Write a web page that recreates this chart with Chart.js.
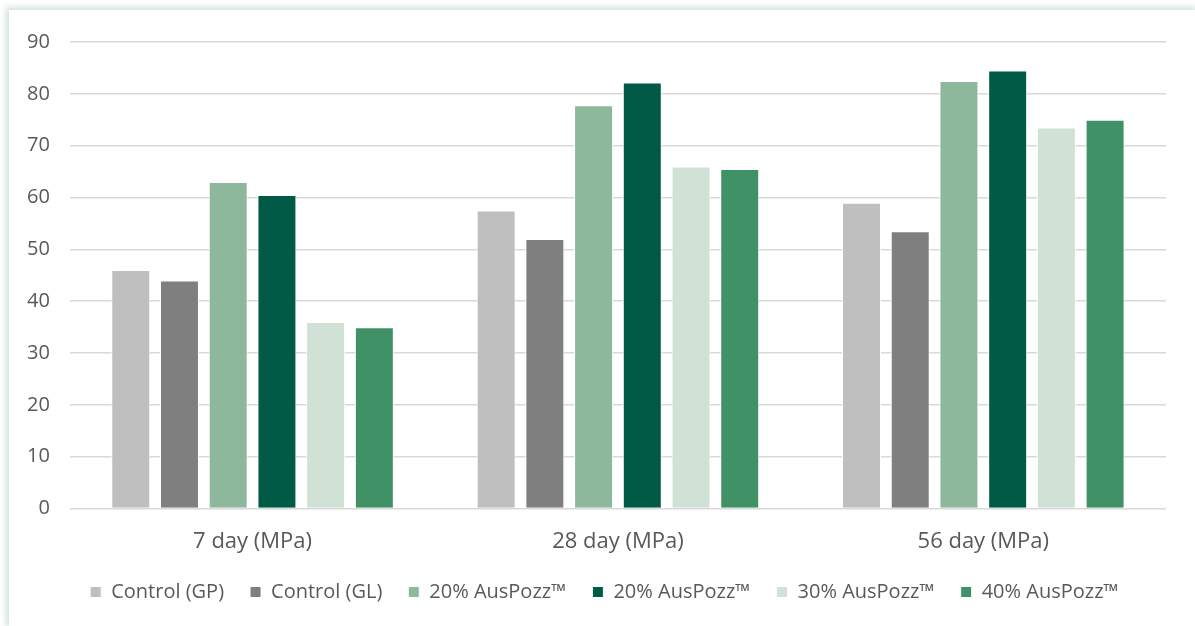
<!DOCTYPE html>
<html>
<head>
<meta charset="utf-8">
<script src="https://cdn.jsdelivr.net/npm/chart.js@4"></script>
<style>
  html, body { margin: 0; padding: 0; background: #fff; overflow: hidden; }
  #frame {
    position: absolute; left: 9px; top: 10px; width: 1190px; height: 620px;
    background: #fff;
    box-shadow: -3px -3px 6px rgba(120, 170, 150, 0.35);
  }
  #wrap { position: absolute; left: 0; top: 0; width: 1186px; height: 616px; }
</style>
</head>
<body>
<div id="frame"><div id="wrap"><canvas id="chart"></canvas></div></div>
<script>
// categories and series
const categories = ['7 day (MPa)', '28 day (MPa)', '56 day (MPa)'];
const seriesNames = ['Control (GP)', 'Control (GL)', '20% AusPozz™', '20% AusPozz™', '30% AusPozz™', '40% AusPozz™'];
const controlGP = [46, 57.5, 59];
const controlGL = [44, 52, 53.5];
const auspozz20a = [63, 77.8, 82.5];
const auspozz20b = [60.5, 82.2, 84.5];
const auspozz30 = [36, 66, 73.5];
const auspozz40 = [35, 65.5, 75];
const seriesColors = ['#BFBFBF', '#7F7F7F', '#8DB89B', '#005A46', '#D0E2D6', '#409266'];

const values = [controlGP, controlGL, auspozz20a, auspozz20b, auspozz30, auspozz40];
const font = 'Open Sans';

// nudge the legend so it sits where the original one does
const legendNudge = {
    id: 'legendNudge',
    afterLayout(chart) {
        const lg = chart.legend;
        lg.left += 18; lg.right += 18;
        lg.top -= 19; lg.bottom -= 19;
    }
};

const ctx = document.getElementById('chart').getContext('2d');
new Chart(ctx, {
    type: 'bar',
    data: {
        labels: categories,
        datasets: values.map((v, i) => ({
            label: seriesNames[i],
            data: v,
            backgroundColor: seriesColors[i],
            borderColor: '#ffffff',
            borderWidth: 1,
            borderSkipped: 'bottom',
            barPercentage: 0.8,
            categoryPercentage: 0.8
        }))
    },
    options: {
        responsive: true,
        maintainAspectRatio: false,
        animation: false,
        layout: { padding: { left: -2, right: 29, top: 15, bottom: -5 } },
        plugins: {
            tooltip: { enabled: false },
            legend: {
                position: 'bottom',
                labels: {
                    boxWidth: 11,
                    boxHeight: 11,
                    padding: 26,
                    color: '#595959',
                    font: { family: font, size: 20 }
                }
            }
        },
        scales: {
            x: {
                grid: { display: false, drawTicks: false },
                border: { display: false },
                ticks: { color: '#595959', padding: 20, font: { family: font, size: 22 } }
            },
            y: {
                min: 0,
                max: 90,
                ticks: { stepSize: 10, color: '#595959', padding: 20, font: { family: font, size: 20 } },
                grid: { color: '#D9D9D9', lineWidth: 1.5, drawTicks: false },
                border: { display: false }
            }
        }
    },
    plugins: [legendNudge]
});
</script>
</body>
</html>
